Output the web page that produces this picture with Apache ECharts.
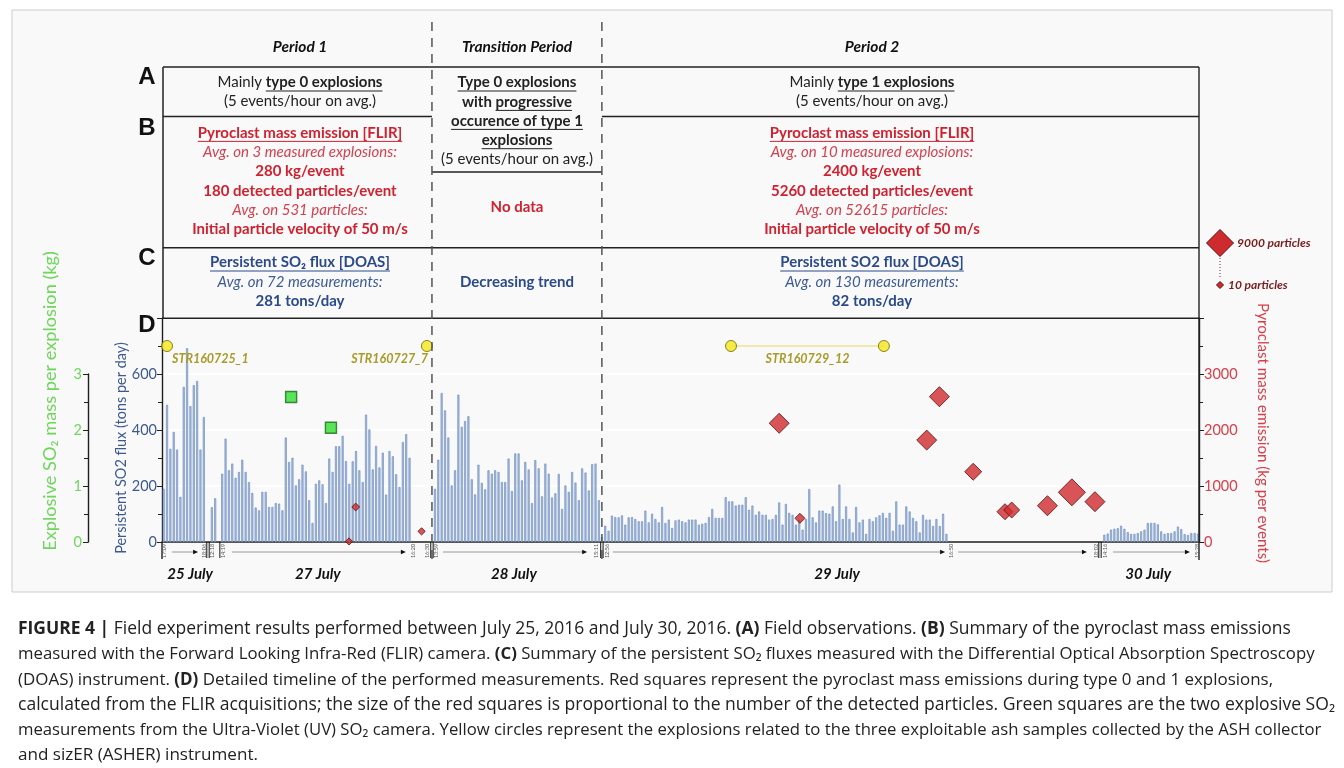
<!DOCTYPE html>
<html><head><meta charset="utf-8">
<script src="https://cdn.jsdelivr.net/npm/echarts@6/dist/echarts.min.js"></script>
<style>html,body{margin:0;padding:0;background:#fff}#c{width:1344px;height:768px}</style>
</head><body><div id="c"></div>
<script>
// ---------------- DATA ----------------
// Persistent SO2 flux (tons/day), each segment: first time-slot + consecutive measurements
const flux25Start = 0.5;
const flux25 = [190,490,333,393,330,161,554,692,485,560,575,330,446];
const flux27aStart = 14.9;
const flux27a = [124,156];
const flux27bStart = 18.0;
const flux27b = [244,369,256,280,229,250,294,250,214,175,123,113,179,179,125,125,139,137,113,373,286,301,202,224,276,252,149,68,208,220,206,139,298,250,342,342,379,289,208,288,325,256,214,455,402,259,343,266,319,169,325,306,242,196,357,385,301];
const flux28Start = 81.6;
const flux28 = [190,294,532,470,373,202,256,526,411,432,449,224,170,276,211,188,256,244,256,250,214,214,298,182,316,316,220,286,259,139,292,263,163,280,244,159,174,243,118,202,179,250,212,149,263,248,184,278,280,149];
const flux29Start = 131.5;
const flux29 = [18,58,40,94,89,88,95,62,88,89,82,74,74,112,70,101,82,70,125,68,80,50,77,80,74,70,80,80,80,62,65,68,89,118,86,86,86,160,145,145,130,133,133,160,115,130,97,109,97,97,80,82,97,141,62,136,104,97,62,80,44,82,189,88,70,112,112,103,101,127,74,205,82,127,82,34,125,70,80,29,82,74,88,95,104,86,104,40,145,62,62,127,109,86,74,34,97,80,80,57,82,57,101,29];
const flux30Start = 281.7;
const flux30 = [26,30,44,47,49,58,47,35,29,29,32,38,44,68,68,68,63,38,29,32,32,38,55,46,28,25,32,32,30];

// Pyroclast mass emission (FLIR): time slot, kg per event, detected particles
const pyroSlot = [55.9,57.9,77.6,184.5,190.7,228.6,232.4,242.5,252.0,254.0,264.7,272.0,278.9];
const pyroKg = [10,625,190,2120,423,1820,2595,1255,541,571,648,887,720];
const pyroParticles = [120,400,120,5850,1350,5850,5850,4500,4050,4050,5850,9000,5850];

// Explosive SO2 (UV camera): time slot, kg
const uvSlot = [38.6,50.5];
const uvKg = [2.59,2.04];

// ASHER samples
const ashSlot = [1.5,79.2,170.1,215.8];
const ashNames = ['STR160725_1','STR160727_7','STR160729_12','STR160729_12'];
const ASH_ROW = 700;

// time stamps under the axis
const timeLabels = ['17:09','18:06','12:18','14:19','16:20','16:30','13:59','15:11','12:56','16:50','18:02','14:16','15:28'];
const timeSlots = [0.6,12.6,15.0,18.2,75.0,79.3,82.0,129.7,133.2,235.9,279.2,282.0,309.4];
const dayLabels = ['25 July','27 July','28 July','29 July','30 July'];
const daySlots = [8.4,46.6,105.2,201.8,294.8];
const breakDouble = [13.75,80.7,131.5,280.4];
const breakSingle = [17.3];
const arrowFrom = [3.0,20.9,84.0,134.8,238.0,284.3];
const arrowTo = [10.8,72.9,127.1,234.1,276.5,307.3];
const periodBounds = [80.7,131.5];

// ---------------- BUILD ----------------
function seg(start, vals){ return vals.map((v,i)=>[start+i, v]); }
const bars = [].concat(seg(flux25Start,flux25), seg(flux27aStart,flux27a), seg(flux27bStart,flux27b),
  seg(flux28Start,flux28), seg(flux29Start,flux29), seg(flux30Start,flux30));

const chart = echarts.init(document.getElementById('c'), null, {renderer:'canvas'});
const AX = '#1e1e1e', BLUE='#3d5a8f', RED='#d6404a', GREEN='#6fd65c';
const FF = 'Lato';
const axisCommon = {
  axisLine:{show:true,onZero:false,lineStyle:{color:AX,width:1.4}},
  axisTick:{show:true,length:5,lineStyle:{color:AX}},
  minorTick:{show:true,splitNumber:2,length:4,lineStyle:{color:AX}}
};
const option = {
  animation:false,
  backgroundColor:'#ffffff',
  grid:[{left:162,right:145,top:318,bottom:226},{left:162,right:145,top:374,bottom:226}],
  xAxis:[
    {gridIndex:0,type:'value',min:0,max:310,axisLine:{show:true,onZero:false,lineStyle:{color:AX,width:1.6}},axisTick:{show:false},axisLabel:{show:false},splitLine:{show:false}},
    {gridIndex:1,type:'value',min:0,max:310,show:false}
  ],
  yAxis:[
    Object.assign({gridIndex:0,type:'value',min:0,max:800,interval:200,position:'left',
     axisLabel:{color:BLUE,fontSize:14.5,fontFamily:FF,margin:5,formatter:v=>v>600?'':String(v)},
     splitLine:{show:true,lineStyle:{color:'#ffffff',width:2}}},axisCommon),
    Object.assign({gridIndex:0,type:'value',min:0,max:4000,interval:1000,position:'right',
     axisLabel:{color:RED,fontSize:14.5,fontFamily:FF,margin:5,formatter:v=>v>3000?'':String(v)},
     splitLine:{show:false}},axisCommon),
    Object.assign({gridIndex:1,type:'value',min:0,max:3,interval:1,position:'left',offset:74,
     axisLabel:{color:GREEN,fontSize:14.5,fontFamily:FF,margin:6},splitLine:{show:false}},axisCommon)
  ],
  series:[
    {type:'bar',xAxisIndex:0,yAxisIndex:0,data:bars,barWidth:2,silent:true,
     itemStyle:{color:'#a9c0e2',borderColor:'#6585b8',borderWidth:0.6},z:2},
    {type:'line',xAxisIndex:0,yAxisIndex:0,data:[[ashSlot[2],ASH_ROW],[ashSlot[3],ASH_ROW]],symbol:'none',
     lineStyle:{color:'#e4dc63',width:1.2},silent:true,z:3},
    {type:'scatter',xAxisIndex:0,yAxisIndex:0,data:ashSlot.map(s=>[s,ASH_ROW]),symbol:'circle',symbolSize:11,
     itemStyle:{color:'#f4e81a',borderColor:'#6f6500',borderWidth:1},silent:true,z:4},
    {type:'scatter',xAxisIndex:0,yAxisIndex:1,symbol:'diamond',
     data:pyroSlot.map((s,i)=>[s,pyroKg[i],pyroParticles[i]]),
     symbolSize:d=>7+20*(d[2]-10)/8990,
     itemStyle:{color:'#cf2a2d',borderColor:'#5a0f10',borderWidth:1},silent:true,z:5},
    {type:'scatter',xAxisIndex:1,yAxisIndex:2,symbol:'rect',symbolSize:11,
     data:uvSlot.map((s,i)=>[s,uvKg[i]]),
     itemStyle:{color:'#2fe02f',borderColor:'#1d6a1d',borderWidth:1.4},silent:true,z:5}
  ]
};
chart.setOption(option);

// ---------------- ANNOTATIONS ----------------
const P = (x,y)=>chart.convertToPixel({xAxisIndex:0,yAxisIndex:0},[x,y||0]);
const zeroY = P(0,0)[1];
const G = [];
const mctx = document.createElement('canvas').getContext('2d');
function fontStr(b,i,size,fam){return (i?'italic ':'')+(b?'bold ':'')+size+'px "'+(fam||FF)+'"';}
function tw(t,b,i,size,fam){mctx.font=fontStr(b,i,size,fam);return mctx.measureText(t).width;}
function txt(x,y,t,o){
  o=o||{};
  G.push({type:'text',x:x,y:y,rotation:o.rot||0,silent:true,z:o.z||20,
    style:{text:t,fill:o.c||'#111',fontFamily:o.fam||FF,fontSize:o.s||13,fontWeight:o.b?'bold':'normal',
      fontStyle:o.i?'italic':'normal',textAlign:o.a||'center',textVerticalAlign:'middle',align:o.a||'center',verticalAlign:'middle',rich:o.rich}});
}
function fitSize(t,b,i,fam,target){return 14*target/tw(t,b,i,14,fam);}
function ln(x1,y1,x2,y2,c,w,dash,z){G.push({type:'line',silent:true,z:z||15,shape:{x1,y1,x2,y2},style:{stroke:c||'#222',lineWidth:w||1,lineDash:dash||null}});}
function richLine(cx,y,runs,size){
  let tot=0; const ws=runs.map(r=>{const w=tw(r.t,r.b,r.i,size);tot+=w;return w;});
  let x=cx-tot/2;
  runs.forEach((r,k)=>{
    txt(x,y,r.t,{c:r.c,b:r.b,i:r.i,s:size,a:'left'});
    if(r.u) ln(x,y+size*0.58,x+ws[k],y+size*0.58,r.c,1);
    x+=ws[k];
  });
}

// figure frame
G.push({type:'rect',silent:true,z:-100,shape:{x:12,y:10,width:1320,height:582},style:{fill:'#f9f9f9',stroke:'#cdcdcd',lineWidth:1}});

// period dashed bounds
periodBounds.forEach(s=>{const x=P(s)[0]; ln(x,22,x,560,'#555',1.5,[9,7],16);});

// boxes
const L=163,R=1199,xa=P(periodBounds[0])[0],xb=P(periodBounds[1])[0];
ln(L,67,R,67,'#222',1.5); ln(L,116.5,xa,116.5,'#222',1.5); ln(xb,116.5,R,116.5,'#222',1.5);
ln(xa,172,xb,172,'#222',1.5); ln(L,247.7,R,247.7,'#222',1.5); ln(L,318.3,R,318.3,'#222',1.5);
ln(L,67,L,318,'#222',1.5); ln(R,67,R,560,'#222',1.4);
ln(162,542,162,559,'#222',1.4);

// row letters
[['A',77],['B',128],['C',258],['D',325]].forEach(a=>txt(147,a[1],a[0],{b:true,s:24,fam:'Liberation Sans',c:'#111'}));

// headers
const c1=300,c2=517,c3=872;
txt(c1,46.5,'Period 1',{b:true,i:true,s:15.5});
txt(c2,46.5,'Transition Period',{b:true,i:true,s:15.5});
txt(c3,46.5,'Period 2',{b:true,i:true,s:15.5});

const K='#222', RD='#cf2230', RI='#d4404e', BL='#2b4a8a', BI='#3c5a93';
const S=15;
// Period 1
richLine(c1,82.3,[{t:'Mainly ',c:K},{t:'type 0 explosions',c:K,b:true,u:true}],S);
richLine(c1,101,[{t:'(5 events/hour on avg.)',c:K}],S);
richLine(c1,132.7,[{t:'Pyroclast mass emission [FLIR]',c:RD,b:true,u:true}],S);
richLine(c1,151.7,[{t:'Avg. on 3 measured explosions:',c:RI,i:true}],S);
richLine(c1,171,[{t:'280 kg/event',c:RD,b:true}],S);
richLine(c1,190.7,[{t:'180 detected particles/event',c:RD,b:true}],S);
richLine(c1,210,[{t:'Avg. on 531 particles:',c:RI,i:true}],S);
richLine(c1,229.3,[{t:'Initial particle velocity of 50 m/s',c:RD,b:true}],S);
richLine(c1,262.3,[{t:'Persistent SO\u2082 flux [DOAS]',c:BL,b:true,u:true}],S);
richLine(c1,281.7,[{t:'Avg. on 72 measurements:',c:BI,i:true}],S);
richLine(c1,301,[{t:'281 tons/day',c:BL,b:true}],S);
// Transition
richLine(c2,82.3,[{t:'Type 0 explosions',c:K,b:true,u:true}],S);
richLine(c2,101.7,[{t:'with ',c:K,b:true},{t:'progressive',c:K,b:true,u:true}],S);
richLine(c2,120.7,[{t:'occurence of type 1',c:K,b:true,u:true}],S);
richLine(c2,140,[{t:'explosions',c:K,b:true,u:true}],S);
richLine(c2,159.3,[{t:'(5 events/hour on avg.)',c:K}],S);
richLine(c2,207.3,[{t:'No data',c:RD,b:true}],S);
richLine(c2,282.3,[{t:'Decreasing trend',c:BL,b:true}],S);
// Period 2
richLine(c3,82.3,[{t:'Mainly ',c:K},{t:'type 1 explosions',c:K,b:true,u:true}],S);
richLine(c3,101,[{t:'(5 events/hour on avg.)',c:K}],S);
richLine(c3,132.7,[{t:'Pyroclast mass emission [FLIR]',c:RD,b:true,u:true}],S);
richLine(c3,151.7,[{t:'Avg. on 10 measured explosions:',c:RI,i:true}],S);
richLine(c3,171,[{t:'2400 kg/event',c:RD,b:true}],S);
richLine(c3,190.7,[{t:'5260 detected particles/event',c:RD,b:true}],S);
richLine(c3,210,[{t:'Avg. on 52615 particles:',c:RI,i:true}],S);
richLine(c3,229.3,[{t:'Initial particle velocity of 50 m/s',c:RD,b:true}],S);
richLine(c3,262.3,[{t:'Persistent SO2 flux [DOAS]',c:BL,b:true,u:true}],S);
richLine(c3,281.7,[{t:'Avg. on 130 measurements:',c:BI,i:true}],S);
richLine(c3,301,[{t:'82 tons/day',c:BL,b:true}],S);

// axis titles (size fitted to the reference lengths)
const tG='Explosive SO\u2082 mass per explosion (kg)', tB='Persistent SO2 flux (tons per day)', tR='Pyroclast mass emission (kg per events)';
txt(50,401,tG,{c:GREEN,s:fitSize(tG,false,false,FF,300),rot:Math.PI/2});
txt(121,448,tB,{c:BLUE,s:fitSize(tB,false,false,FF,212),rot:Math.PI/2});
txt(1263,433,tR,{c:RED,s:fitSize(tR,false,false,FF,260),rot:-Math.PI/2});

// particle size legend
function diamond(cx,cy,h){G.push({type:'polygon',silent:true,z:20,shape:{points:[[cx,cy-h],[cx+h,cy],[cx,cy+h],[cx-h,cy]]},style:{fill:'#cf2a2d',stroke:'#5a0f10',lineWidth:1}});}
diamond(1220,243,13.5); diamond(1220,285,3.5);
ln(1220,258,1220,279,'#8a2a2a',1,[1,2]);
txt(1237,243,'9000 particles',{c:'#7a1c1c',b:true,i:true,s:12,a:'left'});
txt(1228,285,'10 particles',{c:'#7a1c1c',b:true,i:true,s:12,a:'left'});

// ASHER labels
const YL='#a89b28';
let p0=P(ashSlot[0],ASH_ROW); txt(p0[0]+5,p0[1]+13,ashNames[0],{c:YL,b:true,i:true,s:12.5,a:'left'});
let p1=P(ashSlot[1],ASH_ROW); txt(p1[0]+1,p1[1]+13,ashNames[1],{c:YL,b:true,i:true,s:12.5,a:'right'});
let p2=P(ashSlot[2],ASH_ROW), p3=P(ashSlot[3],ASH_ROW); txt((p2[0]+p3[0])/2,p2[1]+13,ashNames[2],{c:YL,b:true,i:true,s:12.5});

// time labels, breaks, arrows, days
timeSlots.forEach((s,i)=>{const x=P(s)[0]; txt(x,zeroY+9,timeLabels[i],{c:'#555',s:5.5,rot:Math.PI/2});});
breakDouble.forEach(s=>{const x=P(s)[0]; ln(x-1.2,zeroY,x-1.2,zeroY+16,'#111',1); ln(x+1.2,zeroY,x+1.2,zeroY+16,'#111',1);});
breakSingle.forEach(s=>{const x=P(s)[0]; ln(x,zeroY,x,zeroY+16,'#111',1);});
arrowFrom.forEach((s,i)=>{const a=P(s)[0],b=P(arrowTo[i])[0],y=zeroY+10;
  ln(a,y,b-4,y,'#9a9a9a',1);
  G.push({type:'polygon',silent:true,z:20,shape:{points:[[b,y],[b-5,y-2.3],[b-5,y+2.3]]},style:{fill:'#111'}});});
daySlots.forEach((s,i)=>{const x=P(s)[0]; txt(x,574,dayLabels[i],{b:true,i:true,s:15,c:'#111'});});

// caption (each line fitted to its width in the reference)
const CF='Open Sans';
const caption=[
 '{b|FIGURE 4 |} Field experiment results performed between July 25, 2016 and July 30, 2016. {b|(A)} Field observations. {b|(B)} Summary of the pyroclast mass emissions',
 'measured with the Forward Looking Infra-Red (FLIR) camera. {b|(C)} Summary of the persistent SO\u2082 fluxes measured with the Differential Optical Absorption Spectroscopy',
 '(DOAS) instrument. {b|(D)} Detailed timeline of the performed measurements. Red squares represent the pyroclast mass emissions during type 0 and 1 explosions,',
 'calculated from the FLIR acquisitions; the size of the red squares is proportional to the number of the detected particles. Green squares are the two explosive SO\u2082',
 'measurements from the Ultra-Violet (UV) SO\u2082 camera. Yellow circles represent the explosions related to the three exploitable ash samples collected by the ASH collector',
 'and sizER (ASHER) instrument.'];
const capTarget=[1274,1298,1256,1318,1304,null];
const capY=[629,654.5,680,705,730,755];
function richWidth(s,size){
  let w=0; const re=/\{b\|([^}]*)\}/g; let last=0,m;
  while((m=re.exec(s))){w+=tw(s.slice(last,m.index),false,false,size,CF)+tw(m[1],true,false,size,CF);last=re.lastIndex;}
  return w+tw(s.slice(last),false,false,size,CF);
}
const capSizes=caption.map((t,i)=>capTarget[i]?14*capTarget[i]/richWidth(t,14):null);
const avgCap=capSizes.slice(0,5).reduce((a,b)=>a+b,0)/5;
caption.forEach((t,i)=>{const s=capSizes[i]||avgCap; txt(18,capY[i],t,{c:'#222',s:s,fam:CF,a:'left',
  rich:{b:{fontWeight:'bold',fontFamily:CF,fontSize:s,fill:'#222',color:'#222'}}});});

chart.setOption({graphic:{elements:G}});
</script></body></html>
